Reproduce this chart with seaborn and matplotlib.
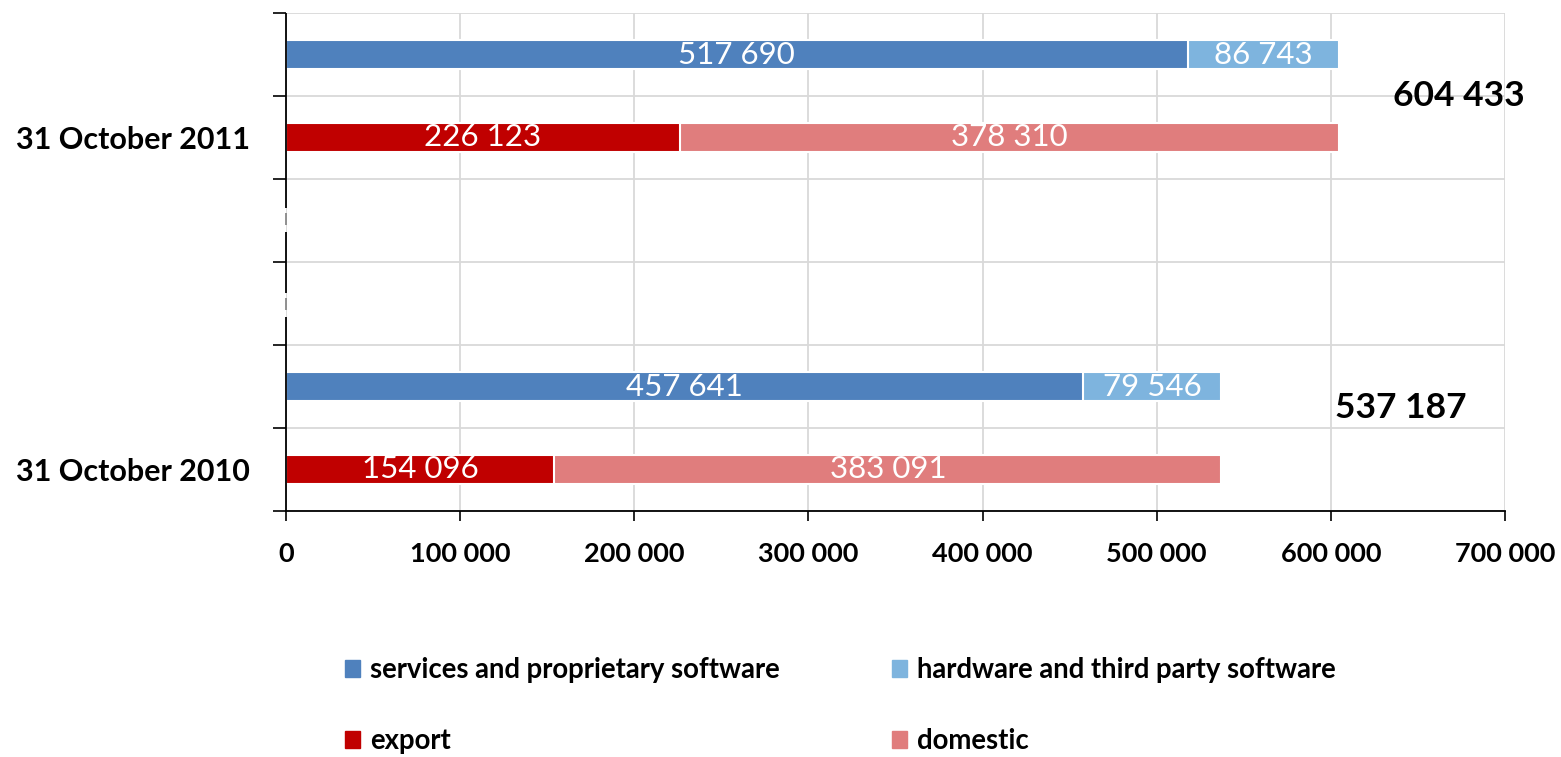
import matplotlib
matplotlib.use("Agg")
import matplotlib.pyplot as plt
from matplotlib.patches import Patch
import pandas as pd
import seaborn as sns

# chart values
dates = ["31 October 2011", "31 October 2010"]
services = [517690, 457641]
hardware = [86743, 79546]
export = [226123, 154096]
domestic = [378310, 383091]
totals = [604433, 537187]
x_ticks = [0, 100000, 200000, 300000, 400000, 500000, 600000, 700000]

# row layout: two bars per date, two empty rows between the dates
rows = ["2011 product", "2011 market", "gap a", "gap b", "2010 product", "2010 market"]
product_rows = ["2011 product", "2010 product"]
market_rows = ["2011 market", "2010 market"]

c_services = "#4F81BD"
c_hardware = "#7EB4DE"
c_export = "#C00000"
c_domestic = "#E07D7D"

product = pd.DataFrame({
    "row": product_rows,
    "first": services,
    "total": [s + h for s, h in zip(services, hardware)],
})
market = pd.DataFrame({
    "row": market_rows,
    "first": export,
    "total": [e + d for e, d in zip(export, domestic)],
})

sns.set_theme(style="white")
plt.rcParams["font.family"] = ["Lato", "DejaVu Sans"]
plt.rcParams["text.color"] = "black"
plt.rcParams["xtick.color"] = "black"
plt.rcParams["ytick.color"] = "black"

fig = plt.figure(figsize=(15.61, 7.57), dpi=100)
ax = fig.add_axes([286 / 1561, 1 - 511 / 757, 1219 / 1561, 498 / 757])

bar_kw = dict(order=rows, orient="y", width=0.36, errorbar=None,
              edgecolor="white", linewidth=1.5, ax=ax)
sns.barplot(data=product, x="total", y="row", color=c_hardware, saturation=1, **bar_kw)
sns.barplot(data=product, x="first", y="row", color=c_services, saturation=1, **bar_kw)
sns.barplot(data=market, x="total", y="row", color=c_domestic, saturation=1, **bar_kw)
sns.barplot(data=market, x="first", y="row", color=c_export, saturation=1, **bar_kw)

# segment labels
label_kw = dict(ha="center", va="center", color="white", fontsize=22.5)
for i, r in enumerate(product_rows):
    y = rows.index(r)
    ax.text(services[i] / 2, y, f"{services[i]:,}".replace(",", " "), **label_kw)
    ax.text(services[i] + hardware[i] / 2, y, f"{hardware[i]:,}".replace(",", " "), **label_kw)
for i, r in enumerate(market_rows):
    y = rows.index(r)
    ax.text(export[i] / 2, y, f"{export[i]:,}".replace(",", " "), **label_kw)
    ax.text(export[i] + domestic[i] / 2, y, f"{domestic[i]:,}".replace(",", " "), **label_kw)

# totals to the right of each group
total_label_x = [635700, 602400]
total_label_y = [0.5, 4.26]
for tx, ty, t in zip(total_label_x, total_label_y, totals):
    ax.text(tx, ty, f"{t:,}".replace(",", " "), ha="left", va="center",
            fontsize=25.5, fontweight="bold", color="black")

ax.set_xlim(0, 700000)
ax.set_ylim(5.5, -0.5)
ax.set_xticks(x_ticks)
ax.set_xticklabels([f"{v:,}".replace(",", " ") for v in x_ticks],
                   fontsize=19.5, fontweight="bold", color="black")
ax.set_yticks([-0.5, 0.5, 1.5, 2.5, 3.5, 4.5, 5.5])
ax.set_yticklabels([])
ax.set_yticks([1, 5], minor=True)
ax.set_yticklabels(dates, minor=True, fontsize=22, fontweight="bold", color="black")
ax.tick_params(axis="y", which="major", direction="out", length=9.5, width=1.2, color="black", left=True)
ax.tick_params(axis="y", which="minor", length=0, pad=26)
ax.tick_params(axis="x", direction="out", length=7, width=1.2, color="black", bottom=True, pad=15)
ax.set_xlabel("")
ax.set_ylabel("")

ax.grid(True, which="major", color="#D9D9D9", linewidth=1.3)
ax.set_axisbelow(True)
for s in ["top", "right", "left"]:
    ax.spines[s].set_visible(False)
ax.spines["bottom"].set_color("black")
ax.spines["bottom"].set_linewidth(1.3)

# broken value axis line
axis_kw = dict(lw=1.3, zorder=5, clip_on=False)
ax.vlines(0, -0.5, 1.849, color="black", **axis_kw)
ax.vlines(0, 1.91, 2.054, color="#888888", **axis_kw)
ax.vlines(0, 2.139, 2.873, color="black", **axis_kw)
ax.vlines(0, 2.934, 3.078, color="#888888", **axis_kw)
ax.vlines(0, 3.163, 5.5, color="black", **axis_kw)

handles = [Patch(color=c_services), Patch(color=c_export),
           Patch(color=c_hardware), Patch(color=c_domestic)]
labels = ["services and proprietary software", "export",
          "hardware and third party software", "domestic"]
fig.legend(handles, labels, ncol=2, loc="upper left",
           bbox_to_anchor=(345 / 1561, 1 - 657 / 757), frameon=False,
           prop=dict(size=19.8, weight="bold"), handlelength=0.55, handleheight=0.55,
           handletextpad=0.35, columnspacing=4.1, labelspacing=1.65, borderpad=0,
           borderaxespad=0)

fig.savefig("out.png", dpi=100)
